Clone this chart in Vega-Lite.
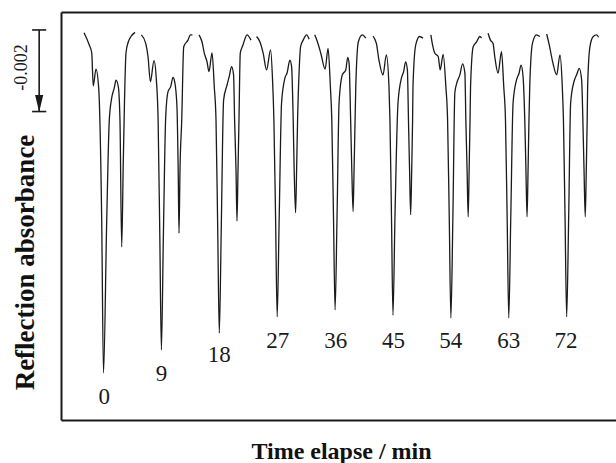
{
"$schema": "https://vega.github.io/schema/vega-lite/v6.json",
"width": 555, "height": 408,
"autosize": {"type": "none"},
"padding": {"left": 61, "top": 12, "right": 0, "bottom": 43},
"background": "white",
"config": {"view": {"stroke": null}, "axis": {"domainColor": "#1a1a1a", "domainWidth": 2, "grid": false, "ticks": false, "labels": false}},
"datasets": {
"trace": [
{"cycle":0,"t":-3.03,"A":-0.00007},{"cycle":0,"t":-2.21,"A":-0.00037},{"cycle":0,"t":-1.83,"A":-0.00056},{"cycle":0,"t":-1.59,"A":-0.00137},{"cycle":0,"t":-1.17,"A":-0.00096},{"cycle":0,"t":-0.75,"A":-0.00142},{"cycle":0,"t":-0.28,"A":-0.00466},{"cycle":0,"t":0,"A":-0.00841},{"cycle":0,"t":0.5,"A":-0.00466},{"cycle":0,"t":0.9,"A":-0.00221},{"cycle":0,"t":1.27,"A":-0.00167},{"cycle":0,"t":1.68,"A":-0.00142},{"cycle":0,"t":1.94,"A":-0.00123},{"cycle":0,"t":2.3,"A":-0.00139},{"cycle":0,"t":2.56,"A":-0.00221},{"cycle":0,"t":2.83,"A":-0.00532},{"cycle":0,"t":3.08,"A":-0.00319},{"cycle":0,"t":3.5,"A":-0.00056},{"cycle":0,"t":3.86,"A":-0.00029},{"cycle":0,"t":4.27,"A":-0.00016},{"cycle":0,"t":4.9,"A":-0.00006},
{"cycle":9,"t":5.89,"A":-0.00012},{"cycle":9,"t":6.56,"A":-0.00033},{"cycle":9,"t":6.92,"A":-0.00065},{"cycle":9,"t":7.29,"A":-0.00127},{"cycle":9,"t":7.85,"A":-0.00075},{"cycle":9,"t":8.22,"A":-0.00123},{"cycle":9,"t":8.49,"A":-0.00221},{"cycle":9,"t":8.75,"A":-0.00502},{"cycle":9,"t":9,"A":-0.00784},{"cycle":9,"t":9.31,"A":-0.00502},{"cycle":9,"t":9.67,"A":-0.00213},{"cycle":9,"t":10.03,"A":-0.00151},{"cycle":9,"t":10.45,"A":-0.00139},{"cycle":9,"t":10.8,"A":-0.00116},{"cycle":9,"t":11.07,"A":-0.00127},{"cycle":9,"t":11.42,"A":-0.00188},{"cycle":9,"t":11.61,"A":-0.00343},{"cycle":9,"t":11.74,"A":-0.00498},{"cycle":9,"t":11.89,"A":-0.00343},{"cycle":9,"t":12.16,"A":-0.00221},{"cycle":9,"t":12.47,"A":-0.00041},{"cycle":9,"t":13.13,"A":-0.00025},{"cycle":9,"t":13.51,"A":-0.00012},{"cycle":9,"t":13.82,"A":-0.00012},
{"cycle":18,"t":14.84,"A":-0.00012},{"cycle":18,"t":15.31,"A":-0.00029},{"cycle":18,"t":15.67,"A":-0.00057},{"cycle":18,"t":16.09,"A":-0.00078},{"cycle":18,"t":16.4,"A":-0.00102},{"cycle":18,"t":16.87,"A":-0.00056},{"cycle":18,"t":17.22,"A":-0.00139},{"cycle":18,"t":17.49,"A":-0.00221},{"cycle":18,"t":17.75,"A":-0.00482},{"cycle":18,"t":18,"A":-0.00743},{"cycle":18,"t":18.31,"A":-0.00482},{"cycle":18,"t":18.67,"A":-0.00172},{"cycle":18,"t":19.2,"A":-0.00135},{"cycle":18,"t":19.55,"A":-0.00114},{"cycle":18,"t":19.91,"A":-0.0009},{"cycle":18,"t":20.22,"A":-0.0011},{"cycle":18,"t":20.38,"A":-0.00221},{"cycle":18,"t":20.6,"A":-0.00343},{"cycle":18,"t":20.75,"A":-0.00468},{"cycle":18,"t":20.91,"A":-0.00343},{"cycle":18,"t":21.06,"A":-0.00221},{"cycle":18,"t":21.26,"A":-0.00057},{"cycle":18,"t":21.68,"A":-0.00037},{"cycle":18,"t":22.31,"A":-0.00012},{"cycle":18,"t":22.93,"A":-0.00025},
{"cycle":27,"t":23.8,"A":-0.00016},{"cycle":27,"t":24.31,"A":-0.00029},{"cycle":27,"t":24.82,"A":-0.00057},{"cycle":27,"t":25.35,"A":-0.00098},{"cycle":27,"t":25.97,"A":-0.00049},{"cycle":27,"t":26.28,"A":-0.00123},{"cycle":27,"t":26.49,"A":-0.00221},{"cycle":27,"t":26.75,"A":-0.00461},{"cycle":27,"t":27,"A":-0.00703},{"cycle":27,"t":27.31,"A":-0.00461},{"cycle":27,"t":27.68,"A":-0.00179},{"cycle":27,"t":28.2,"A":-0.00118},{"cycle":27,"t":28.55,"A":-0.00105},{"cycle":27,"t":28.97,"A":-0.00074},{"cycle":27,"t":29.24,"A":-0.0009},{"cycle":27,"t":29.49,"A":-0.00221},{"cycle":27,"t":29.64,"A":-0.00343},{"cycle":27,"t":29.86,"A":-0.00448},{"cycle":27,"t":30.02,"A":-0.00343},{"cycle":27,"t":30.17,"A":-0.00221},{"cycle":27,"t":30.42,"A":-0.00098},{"cycle":27,"t":30.64,"A":-0.00041},{"cycle":27,"t":31.04,"A":-0.00025},{"cycle":27,"t":31.57,"A":-0.00012},{"cycle":27,"t":31.97,"A":-0.00023},
{"cycle":36,"t":32.84,"A":-0.00012},{"cycle":36,"t":33.25,"A":-0.00029},{"cycle":36,"t":33.78,"A":-0.00057},{"cycle":36,"t":34.45,"A":-0.00096},{"cycle":36,"t":34.91,"A":-0.00045},{"cycle":36,"t":35.27,"A":-0.00139},{"cycle":36,"t":35.49,"A":-0.00221},{"cycle":36,"t":35.75,"A":-0.00453},{"cycle":36,"t":36,"A":-0.00686},{"cycle":36,"t":36.31,"A":-0.00453},{"cycle":36,"t":36.62,"A":-0.00179},{"cycle":36,"t":37.13,"A":-0.0011},{"cycle":36,"t":37.66,"A":-0.00098},{"cycle":36,"t":37.97,"A":-0.00067},{"cycle":36,"t":38.18,"A":-0.00082},{"cycle":36,"t":38.42,"A":-0.00221},{"cycle":36,"t":38.6,"A":-0.00343},{"cycle":36,"t":38.8,"A":-0.00445},{"cycle":36,"t":38.95,"A":-0.00343},{"cycle":36,"t":39.11,"A":-0.00221},{"cycle":36,"t":39.22,"A":-0.00139},{"cycle":36,"t":39.62,"A":-0.00029},{"cycle":36,"t":40.24,"A":-0.00012},{"cycle":36,"t":40.77,"A":-0.0002},
{"cycle":45,"t":41.89,"A":-0.00015},{"cycle":45,"t":42.42,"A":-0.00033},{"cycle":45,"t":42.82,"A":-0.00074},{"cycle":45,"t":43.45,"A":-0.0011},{"cycle":45,"t":43.97,"A":-0.00061},{"cycle":45,"t":44.38,"A":-0.00139},{"cycle":45,"t":44.53,"A":-0.00221},{"cycle":45,"t":44.77,"A":-0.00458},{"cycle":45,"t":45,"A":-0.00699},{"cycle":45,"t":45.31,"A":-0.00458},{"cycle":45,"t":45.78,"A":-0.00179},{"cycle":45,"t":46.31,"A":-0.00118},{"cycle":45,"t":46.66,"A":-0.00102},{"cycle":45,"t":46.97,"A":-0.00078},{"cycle":45,"t":47.24,"A":-0.00098},{"cycle":45,"t":47.41,"A":-0.00221},{"cycle":45,"t":47.58,"A":-0.00343},{"cycle":45,"t":47.75,"A":-0.00453},{"cycle":45,"t":47.91,"A":-0.00343},{"cycle":45,"t":48.05,"A":-0.00221},{"cycle":45,"t":48.11,"A":-0.00139},{"cycle":45,"t":48.53,"A":-0.00037},{"cycle":45,"t":49.15,"A":-0.00016},{"cycle":45,"t":49.66,"A":-0.0002},
{"cycle":54,"t":50.89,"A":-0.00012},{"cycle":54,"t":51.16,"A":-0.00037},{"cycle":54,"t":51.51,"A":-0.00057},{"cycle":54,"t":52.03,"A":-0.00065},{"cycle":54,"t":52.34,"A":-0.00098},{"cycle":54,"t":52.8,"A":-0.0006},{"cycle":54,"t":53.22,"A":-0.00139},{"cycle":54,"t":53.49,"A":-0.00221},{"cycle":54,"t":53.75,"A":-0.00461},{"cycle":54,"t":54,"A":-0.00706},{"cycle":54,"t":54.31,"A":-0.00461},{"cycle":54,"t":54.62,"A":-0.00154},{"cycle":54,"t":54.98,"A":-0.00127},{"cycle":54,"t":55.4,"A":-0.0011},{"cycle":54,"t":55.82,"A":-0.00083},{"cycle":54,"t":56.18,"A":-0.00106},{"cycle":54,"t":56.33,"A":-0.00221},{"cycle":54,"t":56.52,"A":-0.00343},{"cycle":54,"t":56.69,"A":-0.00458},{"cycle":54,"t":56.84,"A":-0.00343},{"cycle":54,"t":56.98,"A":-0.00221},{"cycle":54,"t":57.06,"A":-0.00139},{"cycle":54,"t":57.47,"A":-0.00041},{"cycle":54,"t":58.0,"A":-0.00029},{"cycle":54,"t":58.51,"A":-0.00016},{"cycle":54,"t":58.77,"A":-0.0002},
{"cycle":63,"t":59.78,"A":-0.00008},{"cycle":63,"t":60.16,"A":-0.00025},{"cycle":63,"t":60.56,"A":-0.00033},{"cycle":63,"t":60.82,"A":-0.00065},{"cycle":63,"t":61.34,"A":-0.00106},{"cycle":63,"t":61.87,"A":-0.00053},{"cycle":63,"t":62.22,"A":-0.00139},{"cycle":63,"t":62.49,"A":-0.00221},{"cycle":63,"t":62.75,"A":-0.00461},{"cycle":63,"t":63,"A":-0.00706},{"cycle":63,"t":63.31,"A":-0.00461},{"cycle":63,"t":63.67,"A":-0.00179},{"cycle":63,"t":64.2,"A":-0.00123},{"cycle":63,"t":64.6,"A":-0.00106},{"cycle":63,"t":64.91,"A":-0.00086},{"cycle":63,"t":65.22,"A":-0.00114},{"cycle":63,"t":65.49,"A":-0.00221},{"cycle":63,"t":65.67,"A":-0.00343},{"cycle":63,"t":65.84,"A":-0.00458},{"cycle":63,"t":66.0,"A":-0.00343},{"cycle":63,"t":66.14,"A":-0.00221},{"cycle":63,"t":66.26,"A":-0.00139},{"cycle":63,"t":66.68,"A":-0.00033},{"cycle":63,"t":67.31,"A":-0.00012},{"cycle":63,"t":67.82,"A":-0.00016},
{"cycle":72,"t":68.89,"A":-0.0001},{"cycle":72,"t":69.3,"A":-0.00037},{"cycle":72,"t":69.82,"A":-0.00078},{"cycle":72,"t":70.45,"A":-0.0011},{"cycle":72,"t":70.96,"A":-0.00061},{"cycle":72,"t":71.32,"A":-0.00139},{"cycle":72,"t":71.5,"A":-0.00221},{"cycle":72,"t":71.75,"A":-0.00461},{"cycle":72,"t":72,"A":-0.00703},{"cycle":72,"t":72.31,"A":-0.00461},{"cycle":72,"t":72.62,"A":-0.00179},{"cycle":72,"t":73.13,"A":-0.00127},{"cycle":72,"t":73.55,"A":-0.0011},{"cycle":72,"t":73.96,"A":-0.00094},{"cycle":72,"t":74.33,"A":-0.00123},{"cycle":72,"t":74.52,"A":-0.00221},{"cycle":72,"t":74.7,"A":-0.00343},{"cycle":72,"t":74.89,"A":-0.00458},{"cycle":72,"t":75.05,"A":-0.00343},{"cycle":72,"t":75.19,"A":-0.00221},{"cycle":72,"t":75.26,"A":-0.00139},{"cycle":72,"t":75.62,"A":-0.00041},{"cycle":72,"t":76.13,"A":-0.00016},{"cycle":72,"t":76.66,"A":-0.00012},{"cycle":72,"t":76.97,"A":-0.00018}
],
"labels": [
{"t":0.1,"A":-0.0090,"label":"0"},{"t":9,"A":-0.00844,"label":"9"},{"t":18,"A":-0.00797,"label":"18"},{"t":27.1,"A":-0.00762,"label":"27"},{"t":36.1,"A":-0.00762,"label":"36"},{"t":45.1,"A":-0.00762,"label":"45"},{"t":54,"A":-0.00762,"label":"54"},{"t":63,"A":-0.00762,"label":"63"},{"t":71.9,"A":-0.00762,"label":"72"}
],
"bar": [
{"t":-10,"t2":-10,"A":0,"A2":-0.002},{"t":-11.1,"t2":-8.9,"A":0,"A2":0},{"t":-11.1,"t2":-8.9,"A":-0.002,"A2":-0.002}
],
"arrow": [{"t":-10,"A":-0.0018}],
"bartext": [{"t":-12.72,"A":-0.00092,"label":"-0.002"}]
},
"resolve": {"axis": {"x": "independent", "y": "independent"}},
"layer": [
{"data": {"name": "trace"},
 "mark": {"type": "line", "stroke": "#1a1a1a", "strokeWidth": 1.3, "interpolate": "monotone"},
 "encoding": {
  "x": {"field": "t", "type": "quantitative", "scale": {"domain": [-6.607, 79.67], "nice": false, "zero": false},
        "axis": {"orient": "bottom", "title": "Time elapse / min", "titleFont": "Liberation Serif", "titleFontSize": 24, "titleFontWeight": "bold", "titleColor": "#111", "titleX": 280, "titleY": 38, "titleBaseline": "alphabetic", "titleAlign": "center"}},
  "y": {"field": "A", "type": "quantitative", "scale": {"domain": [-0.00956, 0.00044], "nice": false, "zero": false},
        "axis": {"title": "Reflection absorbance", "titleFont": "Liberation Serif", "titleFontSize": 27, "titleFontWeight": "bold", "titleColor": "#111", "titleAngle": 270, "titleX": -28, "titleY": 250, "titleBaseline": "alphabetic", "titleAlign": "center"}},
  "detail": {"field": "cycle", "type": "nominal"}
 }},
{"data": {"name": "labels"},
 "mark": {"type": "text", "font": "Liberation Serif", "fontSize": 23, "align": "center", "baseline": "middle", "color": "#1a1a1a"},
 "encoding": {
  "x": {"field": "t", "type": "quantitative", "scale": {"domain": [-6.607, 79.67], "nice": false, "zero": false}, "axis": {"orient": "top", "title": null}},
  "y": {"field": "A", "type": "quantitative", "scale": {"domain": [-0.00956, 0.00044], "nice": false, "zero": false}, "axis": null},
  "text": {"field": "label"}
 }},
{"data": {"name": "bar"},
 "mark": {"type": "rule", "stroke": "#1a1a1a", "strokeWidth": 1.6},
 "encoding": {
  "x": {"field": "t", "type": "quantitative", "scale": {"domain": [-6.607, 79.67], "nice": false, "zero": false}, "axis": null},
  "x2": {"field": "t2"},
  "y": {"field": "A", "type": "quantitative", "scale": {"domain": [-0.00956, 0.00044], "nice": false, "zero": false}, "axis": null},
  "y2": {"field": "A2"}
 }},
{"data": {"name": "arrow"},
 "mark": {"type": "point", "filled": true, "shape": "M-0.24,-0.5L0.24,-0.5L0,0.5Z", "size": 1156, "color": "#1a1a1a", "opacity": 1},
 "encoding": {
  "x": {"field": "t", "type": "quantitative", "scale": {"domain": [-6.607, 79.67], "nice": false, "zero": false}, "axis": null},
  "y": {"field": "A", "type": "quantitative", "scale": {"domain": [-0.00956, 0.00044], "nice": false, "zero": false}, "axis": null}
 }},
{"data": {"name": "bartext"},
 "mark": {"type": "text", "font": "Liberation Serif", "fontSize": 18, "angle": 270, "align": "center", "baseline": "middle", "color": "#1a1a1a"},
 "encoding": {
  "x": {"field": "t", "type": "quantitative", "scale": {"domain": [-6.607, 79.67], "nice": false, "zero": false}, "axis": null},
  "y": {"field": "A", "type": "quantitative", "scale": {"domain": [-0.00956, 0.00044], "nice": false, "zero": false}, "axis": null},
  "text": {"field": "label"}
 }}
]
}
